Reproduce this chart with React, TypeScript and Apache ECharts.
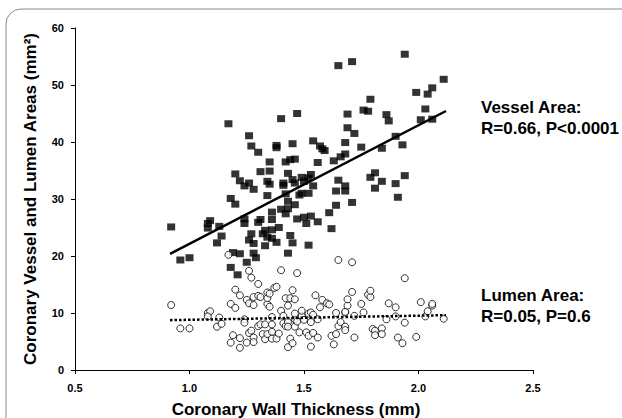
import React, { useEffect, useRef } from "react";
import * as echarts from "echarts";

const vesselX = [0.92,0.96,1.00,1.08,1.09,1.08,1.12,1.13,1.14,1.17,1.18,1.20,1.20,1.18,1.21,1.19,1.22,1.22,1.24,1.24,1.24,1.25,1.26,1.26,1.27,1.28,1.26,1.27,1.28,1.28,1.29,1.30,1.31,1.30,1.31,1.32,1.33,1.33,1.34,1.34,1.34,1.35,1.35,1.36,1.36,1.36,1.36,1.35,1.38,1.38,1.38,1.40,1.39,1.40,1.41,1.41,1.42,1.42,1.42,1.43,1.43,1.43,1.44,1.44,1.45,1.45,1.46,1.46,1.45,1.46,1.43,1.47,1.47,1.48,1.49,1.49,1.50,1.50,1.51,1.52,1.52,1.53,1.53,1.52,1.54,1.54,1.56,1.56,1.57,1.58,1.59,1.61,1.62,1.63,1.64,1.64,1.65,1.65,1.66,1.68,1.68,1.68,1.68,1.69,1.69,1.71,1.71,1.72,1.75,1.76,1.78,1.79,1.79,1.81,1.81,1.84,1.84,1.86,1.87,1.90,1.90,1.91,1.93,1.94,1.94,1.99,2.01,2.03,2.04,2.06,2.06,2.11];
const vesselY = [25.1,19.3,19.7,25.7,26.2,24.9,22.3,25.2,23.5,43.2,30.1,29.1,34.4,18.0,16.7,20.6,20.4,33.2,32.3,26.5,25.7,18.9,32.8,41.1,39.3,31.7,22.8,23.9,22.2,20.5,19.7,38.2,34.8,25.9,26.4,23.9,24.5,21.8,23.3,30.6,33.1,34.9,36.5,27.7,24.6,23.1,26.4,32.6,39.0,39.4,22.4,44.1,25.0,28.2,32.4,32.8,36.5,30.9,27.4,28.3,29.6,34.5,36.9,23.6,22.3,39.7,37.0,29.0,33.4,32.8,20.5,45.0,26.5,30.7,33.8,31.0,26.8,33.1,25.7,31.0,33.7,34.3,27.0,21.9,40.2,32.3,26.0,36.4,39.3,38.8,38.5,27.6,24.8,36.7,31.4,28.9,53.4,33.3,37.4,32.3,31.4,39.9,37.9,44.9,42.5,54.1,29.4,41.5,39.1,45.6,45.4,47.5,33.8,34.6,31.9,33.1,38.9,44.8,43.7,41.0,32.7,30.3,39.5,55.4,34.1,48.7,43.9,45.8,48.4,49.5,44.0,51.0];

const lumenX = [0.92,0.96,1.00,1.08,1.09,1.08,1.12,1.13,1.14,1.17,1.18,1.20,1.20,1.18,1.19,1.22,1.22,1.22,1.24,1.24,1.25,1.25,1.26,1.26,1.27,1.28,1.28,1.26,1.27,1.28,1.28,1.30,1.30,1.31,1.30,1.31,1.32,1.33,1.33,1.34,1.34,1.34,1.34,1.35,1.35,1.36,1.36,1.36,1.36,1.37,1.38,1.38,1.40,1.39,1.40,1.41,1.41,1.42,1.42,1.43,1.43,1.43,1.43,1.44,1.44,1.45,1.45,1.46,1.46,1.46,1.46,1.47,1.47,1.48,1.49,1.49,1.50,1.51,1.52,1.52,1.53,1.53,1.53,1.54,1.54,1.55,1.56,1.56,1.57,1.58,1.60,1.61,1.62,1.63,1.64,1.64,1.65,1.65,1.66,1.68,1.68,1.68,1.68,1.69,1.69,1.71,1.71,1.72,1.72,1.75,1.76,1.78,1.79,1.79,1.80,1.81,1.81,1.84,1.84,1.86,1.87,1.90,1.90,1.91,1.93,1.94,1.94,1.99,2.01,2.03,2.04,2.06,2.06,2.11];
const lumenY = [11.4,7.3,7.3,10.0,10.3,9.4,7.6,9.2,8.1,20.2,11.6,10.9,14.1,4.8,6.1,3.9,5.6,13.1,8.9,8.3,4.8,12.3,11.7,17.4,16.2,11.4,12.8,6.5,6.9,5.7,4.9,15.1,13.0,12.8,7.7,8.0,6.3,8.0,5.4,6.3,11.6,12.6,13.6,11.1,13.4,6.7,8.0,5.5,9.3,14.4,14.6,5.5,17.5,6.4,10.4,8.2,9.5,12.6,7.7,8.4,11.3,7.6,4.0,12.6,5.5,4.7,14.0,8.9,12.4,9.9,7.6,8.5,17.0,6.6,9.5,10.4,8.8,6.6,6.0,9.9,8.4,4.1,10.1,6.5,9.7,13.1,8.9,5.7,11.0,12.3,11.7,11.5,6.0,4.5,10.0,6.3,7.7,19.3,8.4,10.1,7.6,7.0,10.2,11.3,12.4,13.7,18.9,5.7,9.5,11.6,10.1,13.2,12.8,13.9,7.2,6.9,6.1,7.3,6.3,8.9,11.7,11.0,9.4,5.7,4.7,8.3,16.1,5.8,11.9,9.4,10.3,11.3,11.6,9.0,11.7];

// Regression fits: [intercept, slope], drawn over the x range below
const vesselFit = [1.34, 20.8];
const lumenFit = [8.08, 0.726];
const fitRange = [0.915, 2.12];

const xTicks = [0.5, 2.5, 0.5]; // min, max, interval
const yTicks = [0, 60, 10];

const vesselLabel = ["Vessel Area:", "R=0.66, P<0.0001"];
const lumenLabel = ["Lumen Area:", "R=0.05, P=0.6"];
const xTitle = "Coronary Wall Thickness (mm)";
const yTitle = "Coronary Vessel and Lumen Areas (mm\u00B2)";

const FONT = "Arial, 'Liberation Sans', sans-serif";

export default function App() {
  const ref = useRef<HTMLDivElement>(null);
  useEffect(() => {
    const chart = echarts.init(ref.current!, null, { renderer: "svg" });
    const line = (fit: number[]) => fitRange.map((x) => [x, fit[0] + fit[1] * x]);
    const axisCommon = {
      axisLine: { show: true, lineStyle: { color: "#000", width: 1 } },
      axisTick: { show: true, inside: false, length: 4, lineStyle: { color: "#000" } },
      splitLine: { show: false },
    };
    chart.setOption({
      animation: false,
      backgroundColor: "#fff",
      grid: { left: 75, right: 89, top: 28, bottom: 48, containLabel: false },
      xAxis: {
        type: "value",
        min: xTicks[0],
        max: xTicks[1],
        interval: xTicks[2],
        ...axisCommon,
        axisLabel: {
          formatter: (v: number) => v.toFixed(1),
          fontSize: 11,
          fontWeight: "bold",
          fontFamily: FONT,
          color: "#000",
          margin: 12,
        },
      },
      yAxis: {
        type: "value",
        min: yTicks[0],
        max: yTicks[1],
        interval: yTicks[2],
        ...axisCommon,
        axisLabel: {
          fontSize: 11,
          fontWeight: "bold",
          fontFamily: FONT,
          color: "#000",
          margin: 11,
        },
      },
      series: [
        {
          type: "scatter",
          symbol: "rect",
          symbolSize: [8, 7],
          itemStyle: { color: "#000" },
          data: vesselX.map((x, i) => [x, vesselY[i]]),
          z: 2,
        },
        {
          type: "scatter",
          symbol: "circle",
          symbolSize: 7,
          itemStyle: { color: "#fff", borderColor: "#000", borderWidth: 1 },
          data: lumenX.map((x, i) => [x, lumenY[i]]),
          z: 3,
        },
        {
          type: "line",
          data: line(vesselFit),
          showSymbol: false,
          symbol: "none",
          lineStyle: { color: "#000", width: 2.5 },
          z: 4,
        },
        {
          type: "line",
          data: line(lumenFit),
          showSymbol: false,
          symbol: "none",
          lineStyle: { color: "#000", width: 2.5, type: [2.5, 2] },
          z: 4,
        },
      ],
      graphic: [
        {
          type: "rect",
          shape: { x: 6, y: 9, width: 700, height: 500, r: 15 },
          style: { fill: "none", stroke: "#8a8a8a", lineWidth: 1 },
          silent: true,
        },
        {
          type: "text",
          x: 296,
          y: 409,
          style: {
            text: xTitle,
            font: `bold 17px ${FONT}`,
            fill: "#000",
            align: "center",
            verticalAlign: "middle",
          },
        },
        {
          type: "text",
          x: 30,
          y: 199,
          rotation: Math.PI / 2,
          style: {
            text: yTitle,
            font: `bold 17px ${FONT}`,
            fill: "#000",
            align: "center",
            verticalAlign: "middle",
          },
        },
        ...[
          [vesselLabel[0], 107],
          [vesselLabel[1], 128],
          [lumenLabel[0], 295],
          [lumenLabel[1], 316],
        ].map(([t, y]) => ({
          type: "text",
          x: 481,
          y: y as number,
          style: {
            text: t as string,
            font: `bold 17px ${FONT}`,
            fill: "#000",
            align: "left",
            verticalAlign: "middle",
          },
        })),
      ],
    });
    return () => chart.dispose();
  }, []);
  return (
    <div
      ref={ref}
      style={{ position: "fixed", left: 0, top: 0, width: 622, height: 418, background: "#fff" }}
    />
  );
}
